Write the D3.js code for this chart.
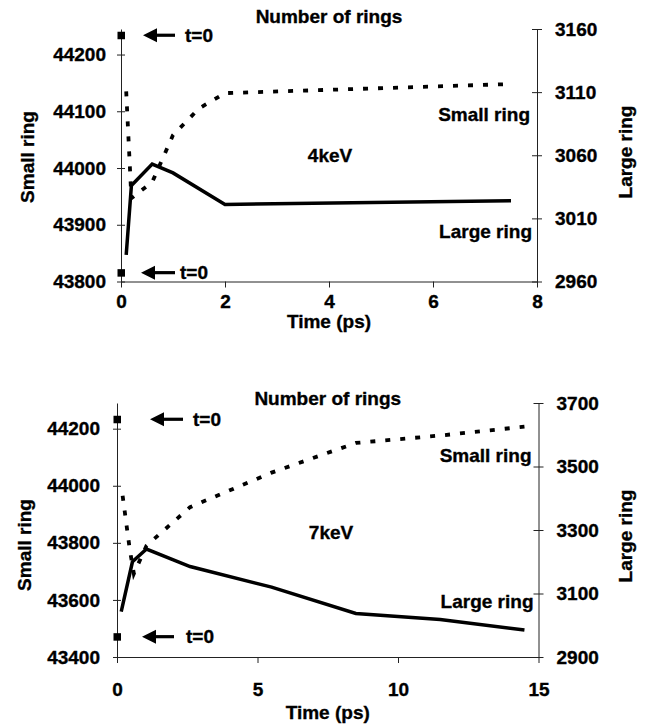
<!DOCTYPE html>
<html><head><meta charset="utf-8">
<script src="https://cdn.jsdelivr.net/npm/d3@7"></script>
<style>
body{margin:0;background:#fff}
svg{display:block}
text{font-family:"Liberation Sans",Arial,Helvetica,sans-serif;font-weight:bold;fill:#000;stroke:#000;stroke-width:0.35px}
</style>
</head><body>
<svg id="c" width="646" height="727"></svg>
<script>
// ---------- DATA ----------
// 4 keV panel
const time4Small  = [0.1, 0.2, 0.6, 1.0, 1.5, 2.0, 7.5];
const small4      = [44135, 43947, 43975, 44058, 44105, 44132, 44148];
const time4Large  = [0.1, 0.2, 0.6, 1.0, 2.0, 7.5];
const large4      = [2981, 3036, 3053, 3046, 3021, 3024];
const small4T0    = 44234;   // t=0 value, small ring
const large4T0    = 2967;    // t=0 value, large ring
const xTicks4     = [0, 2, 4, 6, 8];
const leftTicks4  = [43800, 43900, 44000, 44100, 44200];
const rightTicks4 = [2960, 3010, 3060, 3110, 3160];

// 7 keV panel
const time7Small  = [0.2, 0.45, 0.6, 1.05, 2.6, 5.5, 8.5, 11.5, 14.5];
const small7      = [43965, 43780, 43692, 43790, 43925, 44046, 44150, 44176, 44207];
const time7Large  = [0.15, 0.55, 1.05, 2.6, 5.5, 8.5, 11.5, 14.5];
const large7      = [3043, 3200, 3240, 3185, 3120, 3037, 3018, 2985];
const small7T0    = 44233;
const large7T0    = 2964;
const xTicks7     = [0, 5, 10, 15];
const leftTicks7  = [43400, 43600, 43800, 44000, 44200];
const rightTicks7 = [2900, 3100, 3300, 3500, 3700];

const titleText = "Number of rings";
const xTitle = "Time (ps)";
const leftTitle = "Small ring";
const rightTitle = "Large ring";

// ---------- DRAW ----------
const svg = d3.select("#c");
const FS = "19px";

function panel(o){
  const g = svg.append("g");
  const x  = d3.scaleLinear().domain(o.xDomain).range([o.left, o.right]);
  const yL = d3.scaleLinear().domain(o.leftDomain).range([o.bottom, o.top]);
  const yR = d3.scaleLinear().domain(o.rightDomain).range([o.bottom, o.top]);

  // x axis
  const xa = g.append("g").attr("transform", `translate(0,${o.bottom})`)
    .call(d3.axisBottom(x).tickValues(o.xTicks).tickSize(6).tickSizeOuter(0).tickFormat(d3.format("d")));
  xa.select(".domain").attr("stroke", "#222").attr("stroke-width", 1);
  xa.selectAll(".tick line").attr("stroke", "#222");
  xa.selectAll("text").attr("y", o.xLabelOff).attr("dy", "0.35em").style("font-size", FS);

  // left axis
  const la = g.append("g").attr("transform", `translate(${o.left},0)`)
    .call(d3.axisLeft(yL).tickValues(o.leftTicks).tickSize(4).tickSizeOuter(0).tickPadding(o.leftPad).tickFormat(d3.format("d")));
  la.select(".domain").attr("stroke", "#222").attr("stroke-width", 1);
  la.selectAll(".tick line").attr("x1", 4).attr("stroke", "#222");
  la.selectAll("text").style("font-size", FS);

  // right axis
  const ra = g.append("g").attr("transform", `translate(${o.right},0)`)
    .call(d3.axisRight(yR).tickValues(o.rightTicks).tickSize(5).tickSizeOuter(0).tickPadding(o.rightPad).tickFormat(d3.format("d")));
  ra.select(".domain").attr("stroke", "#222").attr("stroke-width", 1);
  ra.selectAll(".tick line").attr("x1", -5).attr("stroke", "#222");
  ra.selectAll("text").style("font-size", FS);

  // lines
  const lineL = d3.line().x(d => x(d[0])).y(d => yL(d[1]));
  const lineR = d3.line().x(d => x(d[0])).y(d => yR(d[1]));
  g.append("path").datum(o.tSmall.map((t, i) => [t, o.small[i]]))
    .attr("d", lineL).attr("fill", "none").attr("stroke", "#000")
    .attr("stroke-width", 3.8).attr("stroke-dasharray", "5,10");
  g.append("path").datum(o.tLarge.map((t, i) => [t, o.large[i]]))
    .attr("d", lineR).attr("fill", "none").attr("stroke", "#000")
    .attr("stroke-width", 3.5).attr("stroke-linejoin", "miter");

  // t=0 markers with arrows
  const marks = [
    {cx: x(0), cy: yL(o.smallT0), a: o.arrowTop},
    {cx: x(0), cy: yR(o.largeT0), a: o.arrowBot}
  ];
  marks.forEach(m => {
    g.append("rect").attr("x", m.cx - 3.5).attr("y", m.cy - 3.5)
      .attr("width", 7.5).attr("height", 7.5).attr("fill", "#000");
    const tip = m.cx + m.a[0], tail = m.cx + m.a[1];
    g.append("line").attr("x1", tip + 10).attr("x2", tail)
      .attr("y1", m.cy).attr("y2", m.cy).attr("stroke", "#000").attr("stroke-width", 3.2);
    g.append("path").attr("d", `M${tip},${m.cy}L${tip + 14},${m.cy - 7}L${tip + 14},${m.cy + 7}Z`).attr("fill", "#000");
    g.append("text").attr("x", m.cx + m.a[2]).attr("y", m.cy).attr("dy", "0.35em")
      .style("font-size", FS).text("t=0");
  });

  // texts
  const mid = (o.left + o.right) / 2;
  g.append("text").attr("x", mid).attr("y", o.titleY).attr("dy", "0.35em")
    .attr("text-anchor", "middle").style("font-size", FS).text(titleText);
  g.append("text").attr("x", mid).attr("y", o.xTitleY).attr("dy", "0.35em")
    .attr("text-anchor", "middle").style("font-size", FS).text(xTitle);
  g.append("text").attr("x", o.energyX).attr("y", o.energyY).attr("dy", "0.35em")
    .attr("text-anchor", "middle").style("font-size", FS).text(o.energy);
  g.append("text").attr("x", o.right - 7).attr("y", o.smallLabY).attr("dy", "0.35em")
    .attr("text-anchor", "end").style("font-size", FS).text("Small ring");
  g.append("text").attr("x", o.right - 5).attr("y", o.largeLabY).attr("dy", "0.35em")
    .attr("text-anchor", "end").style("font-size", FS).text("Large ring");
  g.append("text").attr("transform", `translate(${o.leftTitleX},${o.leftTitleY}) rotate(-90)`)
    .attr("dy", "0.35em").attr("text-anchor", "middle").style("font-size", FS).text(leftTitle);
  g.append("text").attr("transform", `translate(${o.rightTitleX},${o.rightTitleY}) rotate(-90)`)
    .attr("dy", "0.35em").attr("text-anchor", "middle").style("font-size", FS).text(rightTitle);
}

panel({
  left: 121, right: 537, top: 29, bottom: 281.5,
  xDomain: [0, 8], leftDomain: [43800, 44245], rightDomain: [2960, 3160],
  xTicks: xTicks4, leftTicks: leftTicks4, rightTicks: rightTicks4,
  tSmall: time4Small, small: small4, tLarge: time4Large, large: large4,
  smallT0: small4T0, largeT0: large4T0,
  arrowTop: [22, 54, 64], arrowBot: [20, 54, 59],
  xLabelOff: 20, leftPad: 11, rightPad: 13,
  titleY: 16, xTitleY: 321, energy: "4keV", energyX: 330, energyY: 155,
  smallLabY: 114, largeLabY: 231,
  leftTitleX: 27, leftTitleY: 157, rightTitleX: 625, rightTitleY: 152
});

panel({
  left: 117, right: 538.5, top: 403, bottom: 657,
  xDomain: [0, 15], leftDomain: [43400, 44290], rightDomain: [2900, 3700],
  xTicks: xTicks7, leftTicks: leftTicks7, rightTicks: rightTicks7,
  tSmall: time7Small, small: small7, tLarge: time7Large, large: large7,
  smallT0: small7T0, largeT0: large7T0,
  arrowTop: [33, 66, 76], arrowBot: [25, 57, 69],
  xLabelOff: 32, leftPad: 13, rightPad: 13,
  titleY: 398, xTitleY: 712, energy: "7keV", energyX: 331, energyY: 532,
  smallLabY: 455, largeLabY: 601,
  leftTitleX: 24, leftTitleY: 545, rightTitleX: 625, rightTitleY: 536
});
</script>
</body></html>
